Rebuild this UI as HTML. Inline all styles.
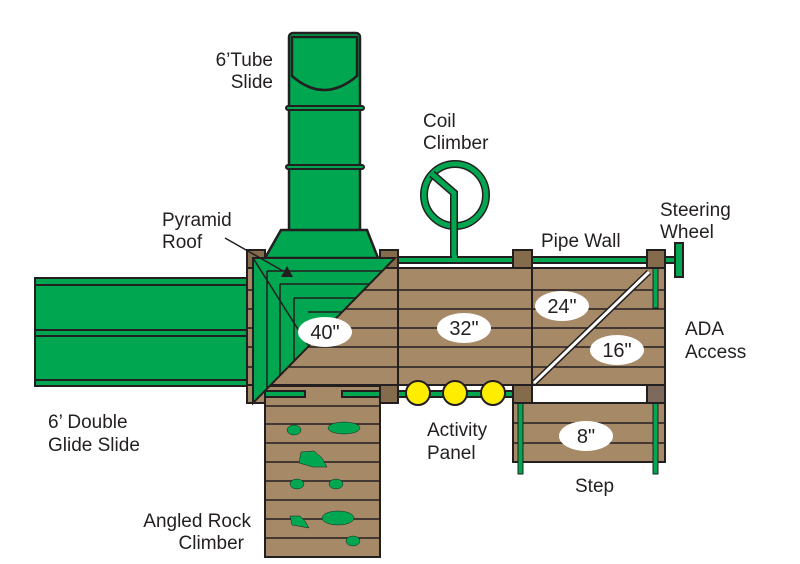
<!DOCTYPE html>
<html><head><style>body{margin:0;background:#fff}svg{display:block}text{font-family:"Liberation Sans",sans-serif;fill:#231f20}</style></head><body>
<svg width="800" height="564" viewBox="0 0 800 564" xmlns="http://www.w3.org/2000/svg">
<g stroke="#231f20" stroke-width="2">
<rect x="35" y="278" width="218" height="108" fill="#00a650"/>
<line x1="35" y1="285" x2="253" y2="285"/><line x1="35" y1="330" x2="253" y2="330"/><line x1="35" y1="336" x2="253" y2="336"/><line x1="35" y1="380" x2="253" y2="380"/>
<rect x="247" y="268" width="418" height="117" fill="#a68966"/>
<rect x="247" y="385" width="20" height="18" fill="#a68966"/>
<line x1="398" y1="268" x2="398" y2="385"/><line x1="532" y1="268" x2="532" y2="385"/>
<g stroke-width="1.5">
<line x1="247" y1="290" x2="665" y2="290"/><line x1="247" y1="309" x2="665" y2="309"/><line x1="247" y1="328" x2="665" y2="328"/><line x1="247" y1="347" x2="665" y2="347"/><line x1="247" y1="367" x2="665" y2="367"/>
</g>
<rect x="513" y="403" width="152" height="59" fill="#a68966"/>
<line x1="513" y1="423" x2="665" y2="423" stroke-width="1.5"/><line x1="513" y1="443" x2="665" y2="443" stroke-width="1.5"/>
<rect x="265" y="386" width="115" height="171" fill="#a68966"/>
<g stroke-width="1.5"><line x1="265" y1="406" x2="380" y2="406"/><line x1="265" y1="424" x2="380" y2="424"/><line x1="265" y1="443" x2="380" y2="443"/><line x1="265" y1="462" x2="380" y2="462"/><line x1="265" y1="481" x2="380" y2="481"/><line x1="265" y1="500" x2="380" y2="500"/><line x1="265" y1="519" x2="380" y2="519"/><line x1="265" y1="538" x2="380" y2="538"/></g>
<!-- coil -->
<circle cx="455" cy="195" r="31" fill="none" stroke="#231f20" stroke-width="8"/>
<circle cx="455" cy="195" r="31" fill="none" stroke="#00a650" stroke-width="5"/>
<polyline points="432,174 454,193 454,262" fill="none" stroke="#231f20" stroke-width="8"/>
<polyline points="432,174 454,193 454,262" fill="none" stroke="#00a650" stroke-width="5"/>
<rect x="398" y="257" width="115" height="6" fill="#00a650"/>
<rect x="452" y="255" width="5" height="4" fill="#00a650" stroke="none"/>
<rect x="532" y="257" width="115" height="6" fill="#00a650"/>
<rect x="665" y="257" width="12" height="6" fill="#00a650"/>
<rect x="675" y="243" width="8" height="34" fill="#00a650"/>
<rect x="398" y="391" width="115" height="6" fill="#00a650"/>
<rect x="265" y="391" width="40" height="6" fill="#00a650"/>
<rect x="342" y="391" width="38" height="6" fill="#00a650"/>
<rect x="653" y="268" width="5" height="40" fill="#00a650" stroke-width="1"/>
<rect x="518" y="403" width="5" height="71" fill="#00a650" stroke-width="1"/>
<rect x="653" y="403" width="5" height="71" fill="#00a650" stroke-width="1"/>
<rect x="532" y="385" width="115" height="18" fill="#fff"/>
<circle cx="418" cy="393" r="12" fill="#ffed00"/><circle cx="455" cy="393" r="12" fill="#ffed00"/><circle cx="493" cy="393" r="12" fill="#ffed00"/>
<g fill="#836b4c"><rect x="247" y="250" width="18" height="18"/><rect x="380" y="250" width="18" height="18"/><rect x="513" y="250" width="19" height="18"/><rect x="647" y="250" width="18" height="18"/><rect x="380" y="385" width="18" height="18"/><rect x="513" y="385" width="19" height="18"/></g>
<rect x="647" y="385" width="18" height="18" fill="#7d6a5c"/>
<line x1="649" y1="272" x2="534" y2="383" stroke="#231f20" stroke-width="6"/>
<line x1="649" y1="272" x2="534" y2="383" stroke="#fff" stroke-width="3"/>
<rect x="289" y="33" width="71" height="200" rx="4" fill="#00a650" stroke-width="2.5"/>
<path d="M292,37 L292,76 Q324,104 357,76 L357,37 Z" fill="none" stroke-width="2.5" stroke-linejoin="round"/>
<rect x="286" y="106" width="78" height="4" rx="2" fill="#00a650"/>
<rect x="286" y="165" width="78" height="4" rx="2" fill="#00a650"/>
<path d="M281,230 L367,230 L378,258 L265,258 Z" fill="#00a650" stroke-width="2.5"/>
<path d="M253,258 L395,258 L253,403 Z" fill="#00a650"/>
<g stroke-width="1.5" fill="none">
<line x1="253" y1="258" x2="308" y2="345"/>
<line x1="267" y1="271" x2="267" y2="388"/><line x1="280" y1="284" x2="280" y2="375"/><line x1="294" y1="298" x2="294" y2="360"/>
<line x1="267" y1="271" x2="382" y2="271"/><line x1="280" y1="284" x2="369" y2="284"/><line x1="294" y1="298" x2="355" y2="298"/><line x1="308" y1="312" x2="341" y2="312"/>
<line x1="225" y1="238" x2="283" y2="271"/>
</g>
<path d="M281,277 L287,266 L293,277 Z" fill="#231f20" stroke="none"/>
<g fill="#00a650" stroke-width="0.5">
<ellipse cx="294" cy="430" rx="7" ry="5"/><ellipse cx="344" cy="428" rx="16" ry="6"/>
<path d="M301,452 L314,451 L322,458 L327,467 L313,467 L299,463 Z"/>
<ellipse cx="297" cy="484" rx="7" ry="5"/><ellipse cx="336" cy="484" rx="7" ry="5"/>
<path d="M290,516 L300,516 L305,521 L309,528 L292,525 Z"/>
<ellipse cx="338" cy="518" rx="16" ry="7"/><ellipse cx="353" cy="541" rx="7" ry="5"/>
</g>
<g fill="#fff" stroke="none"><ellipse cx="325" cy="332" rx="27" ry="15"/><ellipse cx="464" cy="328" rx="27" ry="15"/><ellipse cx="562" cy="306" rx="27" ry="15"/><ellipse cx="617" cy="350" rx="27" ry="15"/><ellipse cx="586" cy="436" rx="27" ry="15"/></g>
</g>
<g font-size="20" text-anchor="middle"><text x="325" y="339">40"</text><text x="464" y="335">32"</text><text x="562" y="313">24"</text><text x="617" y="357">16"</text><text x="586" y="443">8"</text></g>
<g font-size="19">
<text x="273" y="66" text-anchor="end">6’Tube</text><text x="273" y="88" text-anchor="end">Slide</text>
<text x="423" y="127">Coil</text><text x="423" y="149">Climber</text>
<text x="162" y="226">Pyramid</text><text x="162" y="248">Roof</text>
<text x="541" y="247">Pipe Wall</text>
<text x="660" y="216">Steering</text><text x="660" y="238">Wheel</text>
<text x="685" y="335">ADA</text><text x="685" y="358">Access</text>
<text x="48" y="428">6’ Double</text><text x="48" y="451">Glide Slide</text>
<text x="427" y="436">Activity</text><text x="427" y="459">Panel</text>
<text x="575" y="492">Step</text>
<text x="251" y="527" text-anchor="end">Angled Rock</text><text x="244" y="549" text-anchor="end">Climber</text>
</g>
</svg>
</body></html>
